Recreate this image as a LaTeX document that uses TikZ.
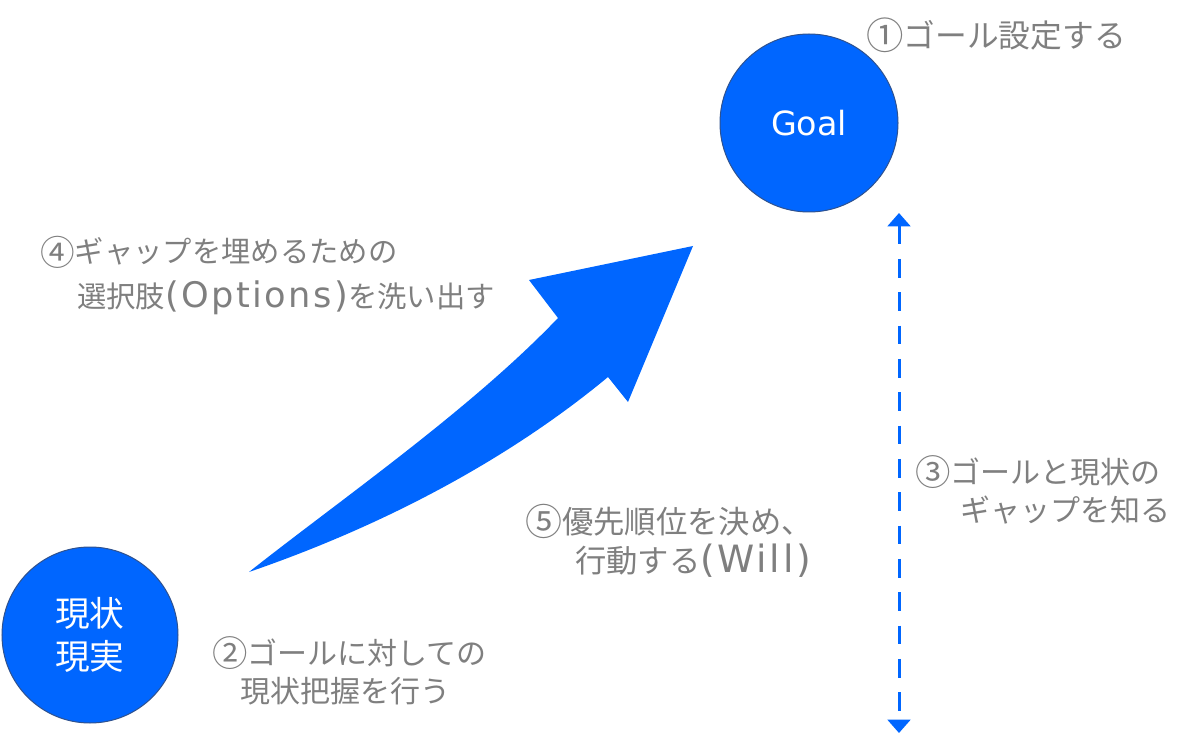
\documentclass[tikz,border=0pt]{standalone}
\usepackage{fontspec}
\usepackage{graphicx}
\setmainfont{Noto Sans CJK JP}
\newfontfamily\latfont[LetterSpace=7,Scale=1.2]{DejaVu Sans}
\newfontfamily\goalfont{DejaVu Sans}
\newcommand\cnum[1]{\raisebox{-0.07em}{\scalebox{1.18}{#1}}}
\usetikzlibrary{arrows.meta}
\definecolor{bblue}{RGB}{0,102,255}
\definecolor{bborder}{RGB}{47,82,143}
\definecolor{tgray}{RGB}{127,127,127}
\begin{document}
\begin{tikzpicture}[x=0.75pt,y=-0.75pt,
  bubble/.style={circle, fill=bblue, draw=bborder, line width=0.75pt, text=white, inner sep=0pt, align=center},
  note/.style={text=tgray, anchor=west, align=left, inner sep=0pt},
  gaparrow/.style={draw=bblue, line width=2.25pt, dash pattern=on 14pt off 11pt,
    {Triangle[width=17pt,length=10pt,fill=bblue]}-{Triangle[width=17pt,length=10pt,fill=bblue]}}
]
\useasboundingbox (0,0) rectangle (1200,752);

% circles
\node[bubble, minimum size=133.5pt, font=\goalfont\fontsize{25}{28}\selectfont] (goal) at (809,123) {Goal};
\node[bubble, minimum size=132pt, font=\fontsize{26}{32}\selectfont] (now) at (90,635) {現状\\現実};

% big curved arrow
\coordinate (tail) at (249,572);
\coordinate (notchL) at (558,318);
\coordinate (barbL) at (529,280);
\coordinate (tip) at (693,246);
\coordinate (barbR) at (628,402);
\coordinate (notchR) at (608,377);
\fill[bblue] (tail) .. controls (340,500) and (470,410) .. (notchL) -- (barbL) -- (tip) -- (barbR) -- (notchR)
  .. controls (520,450) and (400,520) .. (tail) -- cycle;

% dashed gap arrow
\coordinate (gaptop) at (899,213);
\coordinate (gapbot) at (899,733);
\draw[gaparrow] (gaptop) -- (gapbot);

% labels
\node[note, font=\fontsize{23.8}{28}\selectfont] (l1) at (866,35) {\cnum{①}ゴール設定する};
\node[note, font=\fontsize{22}{33.75}\selectfont] (l4) at (40,275.5) {\cnum{④}ギャップを埋めるための\\\hspace{27.75pt}選択肢{\latfont(Options)}を洗い出す};
\node[note, font=\fontsize{22.5}{28.5}\selectfont] (l2) at (212,671) {\cnum{②}ゴールに対しての\\\hspace{21pt}現状把握を行う};
\node[note, font=\fontsize{23.5}{29.25}\selectfont] (l5) at (525,540.5) {\cnum{⑤}優先順位を決め、\\\hspace{37.5pt}行動する{\latfont(Will)}};
\node[note, font=\fontsize{22.5}{28.5}\selectfont] (l3) at (915,490) {\cnum{③}ゴールと現状の\\\hspace{33.75pt}ギャップを知る};
\end{tikzpicture}
\end{document}
